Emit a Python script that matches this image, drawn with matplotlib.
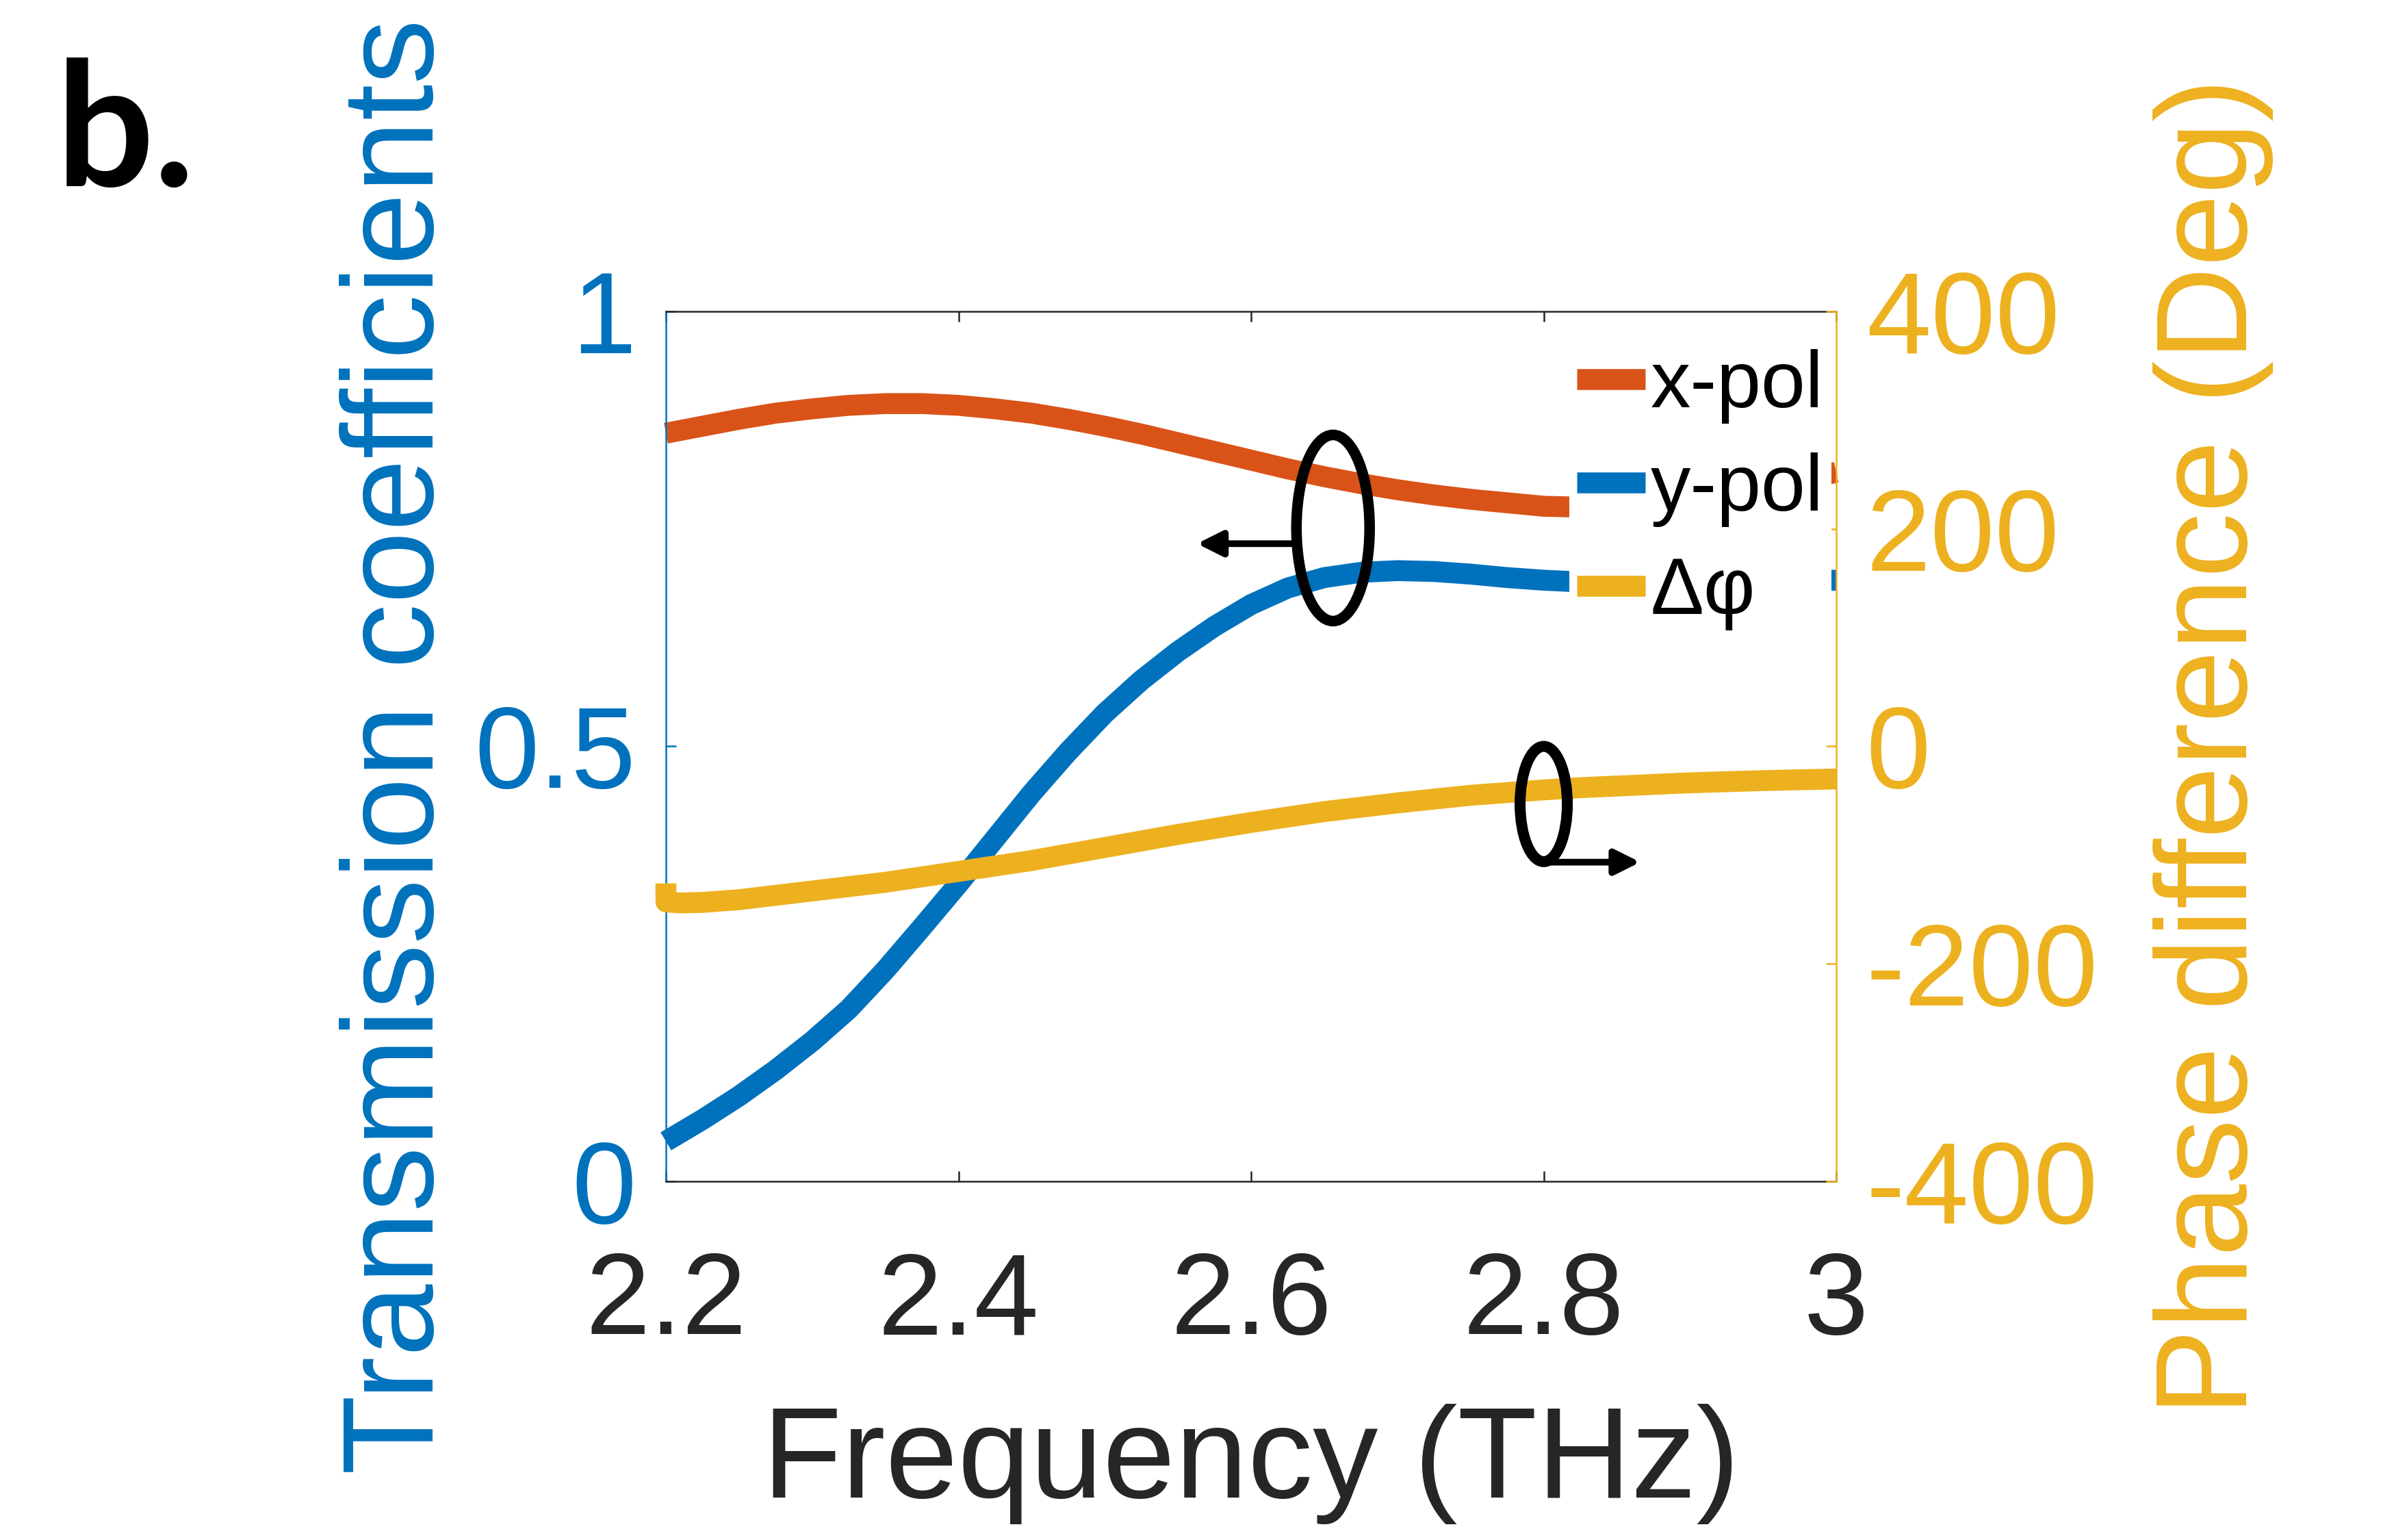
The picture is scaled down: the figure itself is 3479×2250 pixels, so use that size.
import matplotlib
matplotlib.use('Agg')
import matplotlib.pyplot as plt
from matplotlib.patches import Ellipse

plt.rcParams['font.family'] = ['Liberation Sans', 'DejaVu Sans']
plt.rcParams['axes.unicode_minus'] = False

# values
freq = [2.200, 2.225, 2.250, 2.275, 2.300, 2.325, 2.350, 2.375, 2.400,
        2.425, 2.450, 2.475, 2.500, 2.525, 2.550, 2.575, 2.600, 2.625,
        2.650, 2.675, 2.700, 2.725, 2.750, 2.775, 2.800, 2.825, 2.850,
        2.875, 2.900, 2.925, 2.950, 2.975, 3.000]
t_xpol = [0.860, 0.868, 0.876, 0.883, 0.888, 0.892, 0.894, 0.894, 0.892,
          0.888, 0.883, 0.876, 0.868, 0.859, 0.849, 0.839, 0.829, 0.819,
          0.810, 0.802, 0.795, 0.789, 0.784, 0.780, 0.776, 0.775, 0.775,
          0.778, 0.783, 0.790, 0.798, 0.806, 0.815]
t_ypol = [0.046, 0.071, 0.098, 0.128, 0.161, 0.198, 0.243, 0.292, 0.342,
          0.394, 0.446, 0.494, 0.538, 0.576, 0.609, 0.638, 0.663, 0.682,
          0.694, 0.700, 0.702, 0.701, 0.698, 0.694, 0.691, 0.689, 0.688,
          0.688, 0.688, 0.688, 0.689, 0.690, 0.691]

phase_freq = [2.200, 2.200, 2.210, 2.225, 2.250, 2.275, 2.300, 2.325, 2.350,
              2.375, 2.400, 2.425, 2.450, 2.475, 2.500, 2.525, 2.550, 2.575,
              2.600, 2.625, 2.650, 2.675, 2.700, 2.725, 2.750, 2.775, 2.800,
              2.825, 2.850, 2.875, 2.900, 2.925, 2.950, 2.975, 3.000]
phase_diff = [-126, -143, -144, -143.5, -141, -137, -133, -129, -125,
              -120, -115, -110, -105, -99, -93, -87, -81, -75.5,
              -70, -65, -60, -56, -52, -48.5, -45, -42.5, -40,
              -38, -36.5, -35, -33.5, -32.5, -31.5, -30.7, -30]

x_ticks = [2.2, 2.4, 2.6, 2.8, 3.0]
x_ticklabels = ['2.2', '2.4', '2.6', '2.8', '3']
t_ticks = [0, 0.5, 1]
t_ticklabels = ['0', '0.5', '1']
p_ticks = [-400, -200, 0, 200, 400]

blue = '#0072BD'
orange = '#D95319'
yellow = '#EDB120'
dark = '#262626'

fig = plt.figure(figsize=(34.8, 22.5), dpi=100)
ax = fig.add_axes([0.2796, 0.2329, 0.4914, 0.5649])
ax2 = ax.twinx()

lw = 22
l1, = ax.plot(freq, t_xpol, color=orange, lw=lw, solid_capstyle='butt',
              solid_joinstyle='round', clip_on=False, label='x-pol')
l2, = ax.plot(freq, t_ypol, color=blue, lw=lw, solid_capstyle='butt',
              solid_joinstyle='round', clip_on=False, label='y-pol')
l3, = ax2.plot(phase_freq, phase_diff, color=yellow, lw=lw, solid_capstyle='butt',
               solid_joinstyle='round', clip_on=False, label='Δφ')

ax.set_xlim(2.2, 3.0)
ax.set_ylim(0, 1)
ax2.set_ylim(-400, 400)

ax.set_xticks(x_ticks)
ax.set_xticklabels(x_ticklabels)
ax.set_yticks(t_ticks)
ax.set_yticklabels(t_ticklabels)
ax2.set_yticks(p_ticks)

tick_len = 11
ax.tick_params(axis='x', direction='in', top=True, length=tick_len, width=1.8,
               color=dark, labelcolor=dark, labelsize=122, pad=73)
ax.tick_params(axis='y', direction='in', length=tick_len, width=1.8,
               color=blue, labelcolor=blue, labelsize=122, pad=31.5)
ax2.tick_params(axis='y', direction='in', length=tick_len, width=1.8,
                color=yellow, labelcolor=yellow, labelsize=122, pad=31.5)

for s in ['top', 'bottom']:
    ax.spines[s].set_color(dark)
    ax.spines[s].set_linewidth(1.8)
    ax2.spines[s].set_visible(False)
ax.spines['left'].set_color(blue)
ax.spines['left'].set_linewidth(1.8)
ax.spines['right'].set_visible(False)
ax2.spines['left'].set_visible(False)
ax2.spines['right'].set_color(yellow)
ax2.spines['right'].set_linewidth(1.8)

ax.set_xlabel('Frequency (THz)', fontsize=137, color=dark)
ax.xaxis.set_label_coords(0.5, -0.2557)
ax.set_ylabel('Transmission coefficients', fontsize=137, color=blue)
ax.yaxis.set_label_coords(-0.1762, 0.5)
ax2.set_ylabel('Phase difference (Deg)', fontsize=137, color=yellow)
ax2.yaxis.set_label_coords(1.2705, 0.5)

ax2.legend([l1, l2, l3], ['x-pol', 'y-pol', 'Δφ'], loc='upper right',
           bbox_to_anchor=(0.9959, 0.966), borderaxespad=0, frameon=True,
           facecolor='white', edgecolor='none', framealpha=1, fancybox=False,
           fontsize=84, handlelength=0.85, handletextpad=0.07, borderpad=0.1,
           labelspacing=0.36)

# ellipse + arrow pointing to the left axis
ax.add_patch(Ellipse((2.656, 0.751), 0.050, 0.214, fill=False, ec='black',
                     lw=11.2, zorder=10))
ax.annotate('', xy=(2.563, 0.733), xytext=(2.630, 0.733), zorder=10,
            arrowprops=dict(arrowstyle='-|>', color='black', lw=7,
                            mutation_scale=55, shrinkA=0, shrinkB=0))

# ellipse + arrow pointing to the right axis
ax2.add_patch(Ellipse((2.800, -53), 0.0323, 106, fill=False, ec='black',
                      lw=11.5, zorder=10))
ax2.annotate('', xy=(2.866, -106.5), xytext=(2.800, -106.5), zorder=10,
             arrowprops=dict(arrowstyle='-|>', color='black', lw=7,
                             mutation_scale=55, shrinkA=0, shrinkB=0))

fig.text(82 / 3480, 1 - 272 / 2250, 'b.', fontsize=182, fontweight='bold',
         family=['Lato', 'DejaVu Sans'], va='baseline', ha='left')

fig.savefig('out.png', dpi=100)
